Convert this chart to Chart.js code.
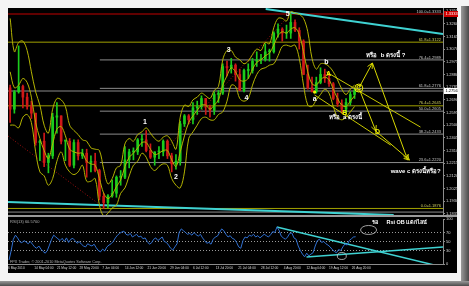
<!DOCTYPE html>
<html>
<head>
<meta charset="utf-8">
<title>EURUSD H4</title>
<script src="https://cdn.jsdelivr.net/npm/chart.js@4.4.1/dist/chart.umd.min.js"></script>
<style>
  html, body { margin: 0; padding: 0; background: #f4f4f4; }
  #wrap { position: relative; width: 469px; height: 286px; overflow: hidden; background: #f4f4f4; }
  #panel { position: absolute; left: 8px; top: 8px; width: 449px; height: 265px; background: #000; }
  #sep { position: absolute; left: 8px; top: 215px; width: 449px; height: 2px; background: #9a9a9a; }
  #shadowRight { position: absolute; left: 461px; top: 6px; width: 8px; height: 280px; background: linear-gradient(to right, #9a9a9a, #4a4a4a); }
  #shadowBottom { position: absolute; left: 0; top: 281px; width: 469px; height: 5px; background: linear-gradient(#9a9a9a, #4a4a4a); }
  canvas { position: absolute; left: 8px; }
  #main { top: 8px; }
  #rsi { top: 217px; }
</style>
</head>
<body>
<div id="wrap">
  <div id="panel"></div>
  <div id="shadowRight"></div>
  <div id="shadowBottom"></div>
  <canvas id="main" width="451" height="207"></canvas>
  <div id="sep"></div>
  <canvas id="rsi" width="451" height="56"></canvas>
</div>
<script>
// EURUSD, 6 May - 27 Aug 2010, one candle per trading day
const firstOpen = 1.2780;
const closes = [
  1.2620, 1.2750, 1.2790, 1.2710, 1.2640, 1.2590, 1.2370, 1.2380, 1.2220, 1.2270,
  1.2560, 1.2570, 1.2380, 1.2380, 1.2200, 1.2370, 1.2270, 1.2290, 1.2220, 1.2230,
  1.2160, 1.1967, 1.1920, 1.1970, 1.1990, 1.2110, 1.2110, 1.2240, 1.2300, 1.2300,
  1.2390, 1.2390, 1.2310, 1.2260, 1.2300, 1.2300, 1.2380, 1.2270, 1.2210, 1.2230,
  1.2510, 1.2570, 1.2540, 1.2630, 1.2640, 1.2700, 1.2640, 1.2610, 1.2730, 1.2740,
  1.2940, 1.2930, 1.2950, 1.2880, 1.2760, 1.2910, 1.2910, 1.2980, 1.2990, 1.2990,
  1.3050, 1.3050, 1.3190, 1.3220, 1.3190, 1.3190, 1.3270, 1.3210, 1.3130, 1.2880,
  1.2780, 1.2750, 1.2820, 1.2880, 1.2850, 1.2810, 1.2700, 1.2660, 1.2620, 1.2670,
  1.2730, 1.2756
];
const highs = [
  1.2800, 1.2760, 1.3094, 1.2800, 1.2740, 1.2680, 1.2590, 1.2390, 1.2440, 1.2290,
  1.2590, 1.2670, 1.2570, 1.2390, 1.2400, 1.2390, 1.2390, 1.2320, 1.2320, 1.2270,
  1.2290, 1.2170, 1.1990, 1.1980, 1.2090, 1.2120, 1.2160, 1.2340, 1.2320, 1.2330,
  1.2400, 1.2430, 1.2460, 1.2360, 1.2300, 1.2340, 1.2390, 1.2390, 1.2290, 1.2280,
  1.2530, 1.2580, 1.2580, 1.2670, 1.2680, 1.2720, 1.2700, 1.2650, 1.2750, 1.2760,
  1.2960, 1.2980, 1.3000, 1.2960, 1.2920, 1.2920, 1.2960, 1.3000, 1.3050, 1.3030,
  1.3110, 1.3070, 1.3200, 1.3260, 1.3230, 1.3250, 1.3333, 1.3290, 1.3230, 1.3140,
  1.2950, 1.2860, 1.2860, 1.2930, 1.2920, 1.2880, 1.2820, 1.2740, 1.2690, 1.2700,
  1.2750, 1.2770
];
const lows = [
  1.2520, 1.2590, 1.2740, 1.2630, 1.2620, 1.2550, 1.2350, 1.2235, 1.2190, 1.2143,
  1.2250, 1.2440, 1.2360, 1.2234, 1.2190, 1.2180, 1.2240, 1.2250, 1.2110, 1.2150,
  1.2150, 1.1940, 1.1876, 1.1880, 1.1960, 1.1960, 1.2050, 1.2100, 1.2180, 1.2240,
  1.2280, 1.2340, 1.2300, 1.2250, 1.2200, 1.2250, 1.2270, 1.2250, 1.2150, 1.2170,
  1.2200, 1.2490, 1.2510, 1.2510, 1.2580, 1.2620, 1.2580, 1.2560, 1.2580, 1.2670,
  1.2730, 1.2870, 1.2890, 1.2830, 1.2760, 1.2750, 1.2850, 1.2890, 1.2940, 1.2960,
  1.2980, 1.2980, 1.3040, 1.3160, 1.3130, 1.3150, 1.3150, 1.3200, 1.3070, 1.2880,
  1.2770, 1.2750, 1.2740, 1.2810, 1.2820, 1.2790, 1.2690, 1.2640, 1.2590, 1.2590,
  1.2650, 1.2700
];
// Bollinger band curves
const bandUpper = [
  1.3300, 1.3050, 1.3120, 1.3130, 1.3060, 1.2900, 1.2750, 1.2650, 1.2500, 1.2440,
  1.2620, 1.2700, 1.2690, 1.2640, 1.2500, 1.2460, 1.2430, 1.2390, 1.2380, 1.2330,
  1.2320, 1.2310, 1.2170, 1.2060, 1.2100, 1.2180, 1.2200, 1.2360, 1.2400, 1.2380,
  1.2430, 1.2450, 1.2480, 1.2440, 1.2400, 1.2380, 1.2410, 1.2420, 1.2380, 1.2320,
  1.2560, 1.2650, 1.2640, 1.2690, 1.2710, 1.2740, 1.2720, 1.2700, 1.2760, 1.2790,
  1.2990, 1.3060, 1.3060, 1.3010, 1.2990, 1.2960, 1.2980, 1.3030, 1.3070, 1.3060,
  1.3120, 1.3110, 1.3230, 1.3300, 1.3300, 1.3280, 1.3350, 1.3340, 1.3330, 1.3300,
  1.3200, 1.3000, 1.2920, 1.2960, 1.2960, 1.2940, 1.2900, 1.2840, 1.2770, 1.2730,
  1.2770, 1.2800
];
const bandMiddle = [
  1.2900, 1.2780, 1.2800, 1.2850, 1.2820, 1.2710, 1.2520, 1.2400, 1.2310, 1.2250,
  1.2360, 1.2470, 1.2490, 1.2420, 1.2320, 1.2300, 1.2290, 1.2290, 1.2230, 1.2210,
  1.2200, 1.2100, 1.1990, 1.1950, 1.1980, 1.2040, 1.2090, 1.2190, 1.2260, 1.2290,
  1.2330, 1.2370, 1.2370, 1.2320, 1.2280, 1.2290, 1.2310, 1.2310, 1.2240, 1.2190,
  1.2300, 1.2420, 1.2520, 1.2570, 1.2610, 1.2650, 1.2650, 1.2620, 1.2650, 1.2690,
  1.2800, 1.2870, 1.2930, 1.2900, 1.2840, 1.2830, 1.2850, 1.2920, 1.2970, 1.2990,
  1.3020, 1.3040, 1.3100, 1.3170, 1.3200, 1.3190, 1.3220, 1.3230, 1.3180, 1.3050,
  1.2900, 1.2810, 1.2800, 1.2840, 1.2860, 1.2840, 1.2770, 1.2700, 1.2650, 1.2640,
  1.2680, 1.2720
];
const bandLower = [
  1.2500, 1.2500, 1.2480, 1.2560, 1.2580, 1.2520, 1.2300, 1.2150, 1.2120, 1.2050,
  1.2100, 1.2230, 1.2300, 1.2200, 1.2150, 1.2130, 1.2150, 1.2200, 1.2080, 1.2080,
  1.2100, 1.1900, 1.1820, 1.1840, 1.1880, 1.1900, 1.1990, 1.2030, 1.2120, 1.2200,
  1.2230, 1.2290, 1.2260, 1.2190, 1.2160, 1.2190, 1.2210, 1.2200, 1.2100, 1.2050,
  1.2030, 1.2150, 1.2400, 1.2450, 1.2500, 1.2550, 1.2560, 1.2540, 1.2540, 1.2580,
  1.2600, 1.2680, 1.2800, 1.2790, 1.2700, 1.2680, 1.2700, 1.2800, 1.2880, 1.2920,
  1.2930, 1.2950, 1.2960, 1.3020, 1.3090, 1.3100, 1.3090, 1.3100, 1.3000, 1.2800,
  1.2650, 1.2640, 1.2690, 1.2730, 1.2770, 1.2740, 1.2640, 1.2560, 1.2540, 1.2560,
  1.2600, 1.2640
];
// RSI(13), two readings per trading day
const rsiValues = [
  9, 30, 55, 64, 58, 50, 47, 52, 49, 45, 50, 44, 38, 35, 40, 33, 28, 24, 30, 42,
  55, 64, 60, 56, 52, 57, 50, 58, 48, 55, 57, 52, 46, 50, 44, 40, 38, 45, 42, 40,
  44, 36, 30, 27, 33, 29, 38, 42, 45, 50, 58, 64, 68, 71, 73, 66, 64, 68, 60, 63,
  66, 60, 62, 56, 58, 50, 44, 47, 55, 58, 52, 56, 60, 50, 48, 42, 35, 31, 38, 45,
  70, 78, 74, 70, 66, 68, 64, 70, 65, 62, 66, 58, 52, 46, 48, 44, 55, 60, 62, 70,
  78, 74, 66, 60, 63, 57, 55, 48, 38, 35, 52, 60, 58, 64, 62, 66, 60, 63, 58, 62,
  66, 63, 60, 65, 72, 70, 82, 75, 62, 58, 55, 60, 68, 69, 58, 55, 40, 30, 22, 16,
  24, 18, 22, 25, 40, 52, 55, 48, 50, 45, 42, 38, 32, 28, 25, 32, 30, 38, 45, 42,
  52, 56, 60, 60.57
];

const priceTicks = [1.3355, 1.3260, 1.3165, 1.3070, 1.2975, 1.2880, 1.2785, 1.2690, 1.2595,
  1.2500, 1.2405, 1.2310, 1.2215, 1.2120, 1.2025, 1.1930, 1.1835];
const rsiTicks = [0, 30, 50, 70, 100];
const rsiLevels = [70, 50, 30];
const dateTickDays = [0, 6.17, 11.5, 16.83, 22.17, 27.5, 32.83, 38.17, 43.5, 48.83,
  54.17, 59.5, 64.83, 70.17, 75.5, 80.83];
const dateLabels = ['6 May 2010', '14 May 04:00', '21 May 12:00', '28 May 20:00', '7 Jun 04:00',
  '14 Jun 12:00', '21 Jun 20:00', '29 Jun 04:00', '6 Jul 12:00', '13 Jul 20:00', '21 Jul 04:00',
  '28 Jul 12:00', '4 Aug 20:00', '12 Aug 04:00', '19 Aug 12:00', '26 Aug 20:00'];

// horizontal levels
const redLevel = 1.3333;
const bidLevel = 1.2756;
const grayFullLevels = [1.2756, 1.1849];
const fibGray = [1.2989, 1.2776, 1.2605, 1.2433, 1.2220];
const fibGrayNames = ['76.4', '61.8', '50.0', '38.2', '23.6'];
const fibStart = 21.6;
const fibYellow = [1.3122, 1.2645, 1.1876];
const fibYellowNames = ['61.8', '76.4', '0.0'];

// drawn trend lines (day, price)
const trendTop = [{ x: 60.6, y: 1.3370 }, { x: 102.3, y: 1.3183 }];
const trendBottom = [{ x: 0, y: 1.1924 }, { x: 90.7, y: 1.1827 }];
const dottedA = [{ x: 0, y: 1.2419 }, { x: 22.3, y: 1.1887 }];
const dottedB = [{ x: 38, y: 1.2351 }, { x: 66.2, y: 1.3325 }];
const channelLines = [
  [{ x: 74.9, y: 1.2898 }, { x: 97.0, y: 1.2486 }],
  [{ x: 72.1, y: 1.2726 }, { x: 90.0, y: 1.2351 }]
];
const arrowPaths = [
  [{ x: 82.5, y: 1.2778 }, { x: 85.7, y: 1.2966 }, { x: 94.0, y: 1.2239 }],
  [{ x: 82.7, y: 1.2763 }, { x: 86.5, y: 1.2456 }, { x: 94.4, y: 1.2239 }]
];
const rsiTrendDown = [{ x: 63.2, y: 82 }, { x: 101.9, y: -6 }];
const rsiTrendUp = [{ x: 70.2, y: 15.6 }, { x: 102.3, y: 37.8 }];

const waveLabels = [
  { text: '1', day: 32.2, price: 1.2524 },
  { text: '2', day: 39.5, price: 1.2112 },
  { text: '3', day: 51.9, price: 1.3063 },
  { text: '4', day: 56.1, price: 1.2703 },
  { text: '5', day: 65.8, price: 1.3333 },
  { text: 'b', day: 74.9, price: 1.2973 },
  { text: 'a', day: 72.1, price: 1.2696 }
];
const letterLabels = [
  { text: 'A', day: 75.4, price: 1.2884 },
  { text: 'B', day: 79.2, price: 1.2594 },
  { text: 'C', day: 82.5, price: 1.2778 },
  { text: 'D', day: 86.9, price: 1.2449 }
];
const notes = [
  { text: 'หรือ  b ตรงนี้ ?', day: 84.3, price: 1.3025 },
  { text: 'หรือ  a ตรงนี้', day: 75.4, price: 1.2561 },
  { text: 'wave c ตรงนี้หรือ?', day: 90.0, price: 1.2157 }
];
const rsiNotes = [
  { text: 'รอ', day: 85.7, value: 93 },
  { text: 'Rsi OB แตกไลน์', day: 89.0, value: 93 }
];
const rsiCircles = [{ day: 84.8, value: 75.6 }, { day: 78.5, value: 17.8 }];

const xMax = 102.3;
const FONT = "'Liberation Sans', 'DejaVu Sans', sans-serif";
const UP = '#1ccc1c', DOWN = '#d01818', BAND = '#b4b400', CYAN = '#3fd2d2';

const opens = closes.map((c, i) => i === 0 ? firstOpen : closes[i - 1]);
const candleColors = closes.map((c, i) => c >= opens[i] ? UP : DOWN);
const dayPoints = arr => arr.map((v, i) => ({ x: i + 0.5, y: v }));

function lineSet(points, color, order, extra) {
  return Object.assign({ type: 'line', data: points, borderColor: color, borderWidth: 1,
    pointRadius: 0, order: order }, extra || {});
}

function arrowHead(ctx, x0, y0, x1, y1, size) {
  const a = Math.atan2(y1 - y0, x1 - x0);
  ctx.beginPath();
  ctx.moveTo(x1 - size * Math.cos(a - 0.45), y1 - size * Math.sin(a - 0.45));
  ctx.lineTo(x1, y1);
  ctx.lineTo(x1 - size * Math.cos(a + 0.45), y1 - size * Math.sin(a + 0.45));
  ctx.stroke();
}

const mainDatasets = [
  lineSet([{ x: 0, y: redLevel }, { x: xMax, y: redLevel }], '#c00000', 10),
  ...grayFullLevels.map(v => lineSet([{ x: 0, y: v }, { x: xMax, y: v }], '#8c8c8c', 10)),
  ...fibGray.map(v => lineSet([{ x: fibStart, y: v }, { x: xMax, y: v }], '#8c8c8c', 10)),
  ...fibYellow.map(v => lineSet([{ x: 0, y: v }, { x: xMax, y: v }], '#a0a000', 10)),
  lineSet(trendTop, CYAN, 9, { borderWidth: 2 }),
  lineSet(trendBottom, CYAN, 9, { borderWidth: 2 }),
  lineSet(dottedA, '#a01010', 9, { borderDash: [1, 2] }),
  lineSet(dottedB, '#a01010', 9, { borderDash: [1, 2] }),
  {
    type: 'bar', order: 5, grouped: false, barThickness: 1,
    data: lows.map((l, i) => ({ x: i + 0.5, y: [l, highs[i]] })),
    backgroundColor: candleColors
  },
  {
    type: 'bar', order: 4, grouped: false, barThickness: 2, minBarLength: 1,
    data: opens.map((o, i) => ({ x: i + 0.5, y: [o, closes[i]] })),
    backgroundColor: candleColors
  },
  lineSet(dayPoints(bandUpper), BAND, 2, { tension: 0.35 }),
  lineSet(dayPoints(bandMiddle), BAND, 2, { tension: 0.35 }),
  lineSet(dayPoints(bandLower), BAND, 2, { tension: 0.35 }),
  ...channelLines.map(p => lineSet(p, '#c8c800', 1)),
  ...arrowPaths.map(p => lineSet(p, '#d8d800', 1))
];

const mainOverlay = {
  id: 'mainOverlay',
  afterDatasetsDraw(chart) {
    const { ctx, chartArea, scales: { x, y } } = chart;
    ctx.save();
    // fibo level captions
    ctx.font = '4px ' + FONT;
    ctx.textAlign = 'right';
    ctx.textBaseline = 'bottom';
    const caption = (name, v, color) => {
      ctx.fillStyle = color;
      ctx.fillText(name + '=' + v.toFixed(4), chartArea.right - 2, y.getPixelForValue(v) - 0.5);
    };
    caption('100.0', redLevel, '#c8c8c8');
    fibGray.forEach((v, i) => caption(fibGrayNames[i], v, '#c8c8c8'));
    fibYellow.forEach((v, i) => caption(fibYellowNames[i], v, '#d0d060'));

    // arrow heads
    ctx.strokeStyle = '#d8d800';
    ctx.lineWidth = 1;
    arrowPaths.forEach(p => {
      for (let i = 1; i < p.length; i++) {
        arrowHead(ctx, x.getPixelForValue(p[i - 1].x), y.getPixelForValue(p[i - 1].y),
          x.getPixelForValue(p[i].x), y.getPixelForValue(p[i].y), 6);
      }
    });

    // wave counts
    ctx.textAlign = 'center';
    ctx.textBaseline = 'middle';
    ctx.font = 'bold 7px ' + FONT;
    ctx.fillStyle = '#ffffff';
    waveLabels.forEach(l => ctx.fillText(l.text, x.getPixelForValue(l.day), y.getPixelForValue(l.price)));
    ctx.fillStyle = '#f0f000';
    letterLabels.forEach(l => ctx.fillText(l.text, x.getPixelForValue(l.day), y.getPixelForValue(l.price)));
    const c = letterLabels[2];
    ctx.strokeStyle = '#f0f000';
    ctx.beginPath();
    ctx.arc(x.getPixelForValue(c.day), y.getPixelForValue(c.price), 4, 0, Math.PI * 2);
    ctx.stroke();
    ctx.beginPath();
    ctx.arc(x.getPixelForValue(72.1), y.getPixelForValue(1.2748), 1.6, 0, Math.PI * 2);
    ctx.fill();

    // notes
    ctx.textAlign = 'left';
    ctx.font = 'bold 6px ' + FONT;
    ctx.fillStyle = '#ffffff';
    notes.forEach(n => ctx.fillText(n.text, x.getPixelForValue(n.day), y.getPixelForValue(n.price)));
    ctx.restore();
  },
  afterDraw(chart) {
    const { ctx, chartArea, scales: { y } } = chart;
    ctx.save();
    ctx.font = '4px ' + FONT;
    ctx.textBaseline = 'middle';
    ctx.textAlign = 'left';
    const box = (v, bg, fg) => {
      const py = Math.round(y.getPixelForValue(v));
      ctx.fillStyle = bg;
      ctx.fillRect(chartArea.right + 1, py - 3, 14, 6);
      ctx.fillStyle = fg;
      ctx.fillText(v.toFixed(4), chartArea.right + 2.5, py + 0.3);
    };
    box(redLevel, '#d00000', '#ffffff');
    box(bidLevel, '#ffffff', '#000000');
    ctx.restore();
  }
};

new Chart(document.getElementById('main'), {
  type: 'bar',
  data: { datasets: mainDatasets },
  options: {
    responsive: false, animation: false, events: [],
    layout: { padding: 0 },
    plugins: { legend: { display: false }, tooltip: { enabled: false } },
    scales: {
      x: { type: 'linear', min: 0, max: xMax, offset: false, display: false },
      y: {
        position: 'right', min: 1.1827, max: 1.3378,
        afterBuildTicks: s => { s.ticks = priceTicks.map(v => ({ value: v })); },
        afterFit: s => { s.width = 16; s.paddingTop = 0; s.paddingBottom = 0; },
        grid: { drawOnChartArea: false, tickLength: 2, color: '#8c8c8c' },
        border: { color: '#8c8c8c' },
        ticks: { color: '#d8d8d8', padding: 1, autoSkip: false,
          font: { size: 4, family: FONT }, callback: v => v.toFixed(4) }
      }
    }
  },
  plugins: [mainOverlay]
});

const rsiOverlay = {
  id: 'rsiOverlay',
  afterDatasetsDraw(chart) {
    const { ctx, chartArea, scales: { x, y } } = chart;
    ctx.save();
    ctx.fillStyle = '#b0b0b0';
    ctx.font = '4px ' + FONT;
    ctx.textBaseline = 'top';
    ctx.fillText('RSI(13) ' + rsiValues[rsiValues.length - 1].toFixed(4), chartArea.left + 2, chartArea.top + 1);
    ctx.textBaseline = 'bottom';
    ctx.font = '3.8px ' + FONT;
    ctx.fillText('FPX Trader, \u00a9 2001-2010 MetaQuotes Software Corp.', chartArea.left + 2, chartArea.bottom);

    ctx.strokeStyle = '#c8c8c8';
    ctx.lineWidth = 0.8;
    const sizes = [[8, 4.5], [4.5, 3.5]];
    rsiCircles.forEach((c, i) => {
      ctx.beginPath();
      ctx.ellipse(x.getPixelForValue(c.day), y.getPixelForValue(c.value), sizes[i][0], sizes[i][1], 0, 0, Math.PI * 2);
      ctx.stroke();
    });

    ctx.fillStyle = '#ffffff';
    ctx.font = 'bold 5.5px ' + FONT;
    ctx.textBaseline = 'middle';
    rsiNotes.forEach(n => ctx.fillText(n.text, x.getPixelForValue(n.day), y.getPixelForValue(n.value)));
    ctx.restore();
  }
};

new Chart(document.getElementById('rsi'), {
  type: 'line',
  data: {
    datasets: [
      ...rsiLevels.map(v => lineSet([{ x: 0, y: v }, { x: xMax, y: v }], '#9a9a9a', 10, { borderDash: [1, 2] })),
      lineSet(rsiTrendDown, CYAN, 5, { borderWidth: 1.5 }),
      lineSet(rsiTrendUp, CYAN, 5, { borderWidth: 1.5 }),
      lineSet(rsiValues.map((v, i) => ({ x: i / 2 + 0.25, y: v })), '#2f6fd0', 1)
    ]
  },
  options: {
    responsive: false, animation: false, events: [],
    layout: { padding: { top: 2, left: 0, right: 0, bottom: 0 } },
    plugins: { legend: { display: false }, tooltip: { enabled: false } },
    scales: {
      x: {
        type: 'linear', min: 0, max: xMax,
        afterBuildTicks: s => { s.ticks = dateTickDays.map(v => ({ value: v })); },
        afterFit: s => { s.height = 9; s.paddingLeft = 0; s.paddingRight = 0; },
        grid: { display: false, drawTicks: false },
        border: { color: '#8c8c8c' },
        ticks: { color: '#d8d8d8', padding: 2, autoSkip: false, maxRotation: 0, align: 'start',
          font: { size: 3.2, family: FONT }, callback: (v, i) => dateLabels[i] }
      },
      y: {
        position: 'right', min: 0, max: 100,
        afterBuildTicks: s => { s.ticks = rsiTicks.map(v => ({ value: v })); },
        afterFit: s => { s.width = 16; s.paddingTop = 0; s.paddingBottom = 0; },
        grid: { drawOnChartArea: false, tickLength: 2, color: '#8c8c8c' },
        border: { color: '#8c8c8c' },
        ticks: { color: '#d8d8d8', padding: 1, autoSkip: false, font: { size: 4, family: FONT } }
      }
    }
  },
  plugins: [rsiOverlay]
});
</script>
</body>
</html>
